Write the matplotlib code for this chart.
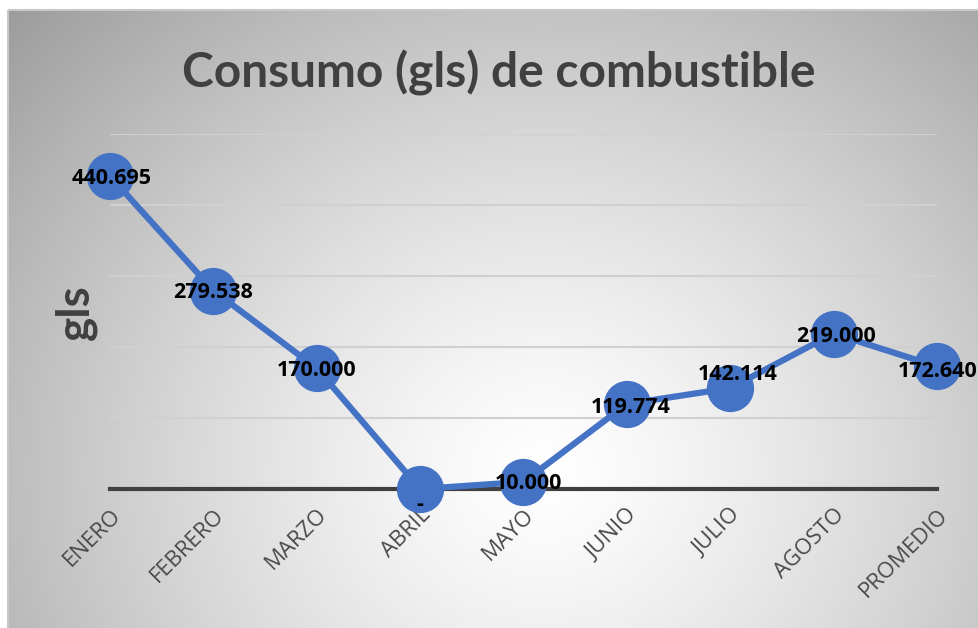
import numpy as np
import matplotlib.pyplot as plt
from matplotlib.patches import Rectangle

# datos
meses = ["ENERO", "FEBRERO", "MARZO", "ABRIL", "MAYO", "JUNIO", "JULIO", "AGOSTO", "PROMEDIO"]
consumo = [440.695, 279.538, 170.000, 0.0, 10.000, 119.774, 142.114, 219.000, 172.640]
etiquetas = ["440.695", "279.538", "170.000", "-", "10.000", "119.774", "142.114", "219.000", "172.640"]
# pequeños ajustes de las etiquetas (pixeles)
ajuste = [(2, -2), (0, -2), (0, -2), (0, -16), (5, -2), (4, -4), (7, 14), (2, -3), (1, -5)]

W, H = 979, 628
fig = plt.figure(figsize=(W / 100, H / 100), dpi=100)

# fondo con degradado radial
bg = fig.add_axes([0, 0, 1, 1], zorder=-5)
bg.set_xlim(0, W)
bg.set_ylim(H, 0)
bg.axis("off")
yy, xx = np.mgrid[0:H, 0:W]
r = np.sqrt(((xx - 540) / 560.0) ** 2 + ((yy - 470) / 520.0) ** 2)
g = np.clip(1.0 - 0.27 * r ** 1.3, 0, 1)
img = np.dstack([g, g, g])
bg.imshow(img, extent=(8, W, H, 10), aspect="auto", interpolation="bilinear")
bg.add_patch(Rectangle((8, 10), W, H, fill=False, edgecolor="#c8c8c8", lw=1.5))

ax = fig.add_axes([110 / W, 1 - 489 / H, (937 - 110) / W, (489 - 134) / H])
ax.patch.set_alpha(0)
x = np.arange(len(meses))
ax.set_xlim(0, len(meses) - 1)
ax.set_ylim(0, 500)
ax.set_yticks(np.arange(100, 501, 100))
ax.yaxis.grid(True, color="#d0d0d0", lw=1.5)
ax.tick_params(axis="y", length=0, labelleft=False)
for s in ["top", "right", "left", "bottom"]:
    ax.spines[s].set_visible(False)
ax.axhline(0, color="#404040", lw=3, zorder=2, clip_on=False)

ax.plot(x, consumo, color="#4472c4", lw=4.5, marker="o", markersize=33,
        clip_on=False, zorder=3)

for xi, yi, t, (dx, dy) in zip(x, consumo, etiquetas, ajuste):
    ax.annotate(t, (xi, yi), xytext=(dx, dy), textcoords="offset pixels",
                ha="center", va="center", fontsize=15.5, fontweight="bold",
                family="Open Sans", color="black", zorder=5)

ax.set_xticks(x)
ax.set_xticklabels(meses, rotation=45, ha="right", va="top", rotation_mode="anchor",
                   fontsize=16, family="Open Sans", color="#4a4a4a")
ax.tick_params(axis="x", length=0, pad=11)

fig.text(499 / W, 1 - 73 / H, "Consumo (gls) de combustible", ha="center", va="center",
         fontsize=34.5, fontweight="bold", family="Lato", color="#404040")
fig.text(76 / W, 1 - 312 / H, "gls", rotation=90, ha="center", va="center",
         fontsize=33, fontweight="bold", family="Lato", color="#404040")

fig.savefig("out.png", dpi=100)
